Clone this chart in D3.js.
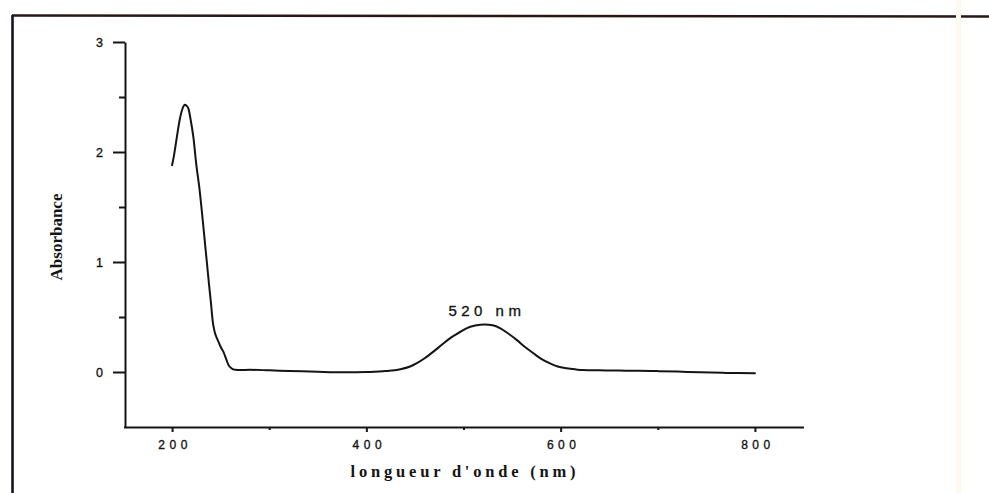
<!DOCTYPE html>
<html>
<head>
<meta charset="utf-8">
<script src="https://cdn.jsdelivr.net/npm/d3@7"></script>
<style>
  html, body { margin: 0; padding: 0; background: #fff; }
  svg { display: block; }
</style>
</head>
<body>
<svg id="chart" width="989" height="493"></svg>
<script>
// UV-visible absorption spectrum
const wavelength = [200, 202, 205, 208, 211, 213, 215, 217, 219, 222, 225, 228, 231, 234, 236, 238, 240, 242, 244, 246, 248, 250, 253, 256, 258, 261, 265, 270, 280, 300, 320, 350, 380, 400, 420, 435, 445, 452, 460, 469, 478, 486, 495, 503, 512, 522, 530, 538, 546, 555, 563, 572, 580, 589, 597, 606, 615, 623, 640, 660, 680, 700, 720, 743, 770, 800];
const absorbance = [1.88, 1.97, 2.14, 2.30, 2.40, 2.43, 2.42, 2.39, 2.30, 2.13, 1.88, 1.68, 1.43, 1.16, 0.98, 0.80, 0.63, 0.45, 0.36, 0.31, 0.27, 0.23, 0.18, 0.11, 0.065, 0.035, 0.02, 0.018, 0.02, 0.015, 0.01, 0.002, -0.003, 0.0, 0.008, 0.025, 0.05, 0.08, 0.125, 0.185, 0.25, 0.306, 0.355, 0.397, 0.422, 0.432, 0.425, 0.397, 0.35, 0.29, 0.23, 0.17, 0.12, 0.079, 0.05, 0.034, 0.024, 0.018, 0.015, 0.013, 0.011, 0.008, 0.004, -0.003, -0.008, -0.012];

const xMajorTicks = [200, 400, 600, 800];
const xMinorTicks = [300, 500, 700];
const yMajorTicks = [0, 1, 2, 3];
const yMinorTicks = [0.5, 1.5, 2.5];

const peakLabel = "520 nm";
const peakWavelength = 520;
const peakAbsorbance = 0.432;
const xTitle = "longueur d'onde (nm)";
const yTitle = "Absorbance";

const ink = "#141414";
const sans = "'Liberation Sans', Arial, sans-serif";
const serif = "'Liberation Serif', 'Times New Roman', serif";
const svg = d3.select("#chart");

// page frame (top and left rules)
svg.append("line").attr("x1", 12).attr("x2", 989).attr("y1", 15.5).attr("y2", 16.5)
  .attr("stroke", "#2a1616").attr("stroke-width", 2.6);
svg.append("line").attr("x1", 12.5).attr("x2", 12.5).attr("y1", 15).attr("y2", 493)
  .attr("stroke", "#141428").attr("stroke-width", 2.6);
// faint scan band
svg.append("rect").attr("x", 956).attr("y", 0).attr("width", 5).attr("height", 493)
  .attr("fill", "#fcfaec");

const x = d3.scaleLinear().domain([150, 850]).range([123.5, 803.5]);
const y = d3.scaleLinear().domain([-0.5, 3]).range([427, 42]);

const axisStyle = g => {
  g.selectAll("path.domain").attr("stroke", ink).attr("stroke-width", 2);
  g.selectAll(".tick line").attr("stroke", ink).attr("stroke-width", 2);
  g.selectAll(".tick text")
    .attr("fill", ink)
    .attr("stroke", ink)
    .attr("stroke-width", 0.35)
    .style("font-family", sans);
};

// y axis
const yAxisG = svg.append("g").attr("transform", `translate(${x(150) + 1.5},0)`);
yAxisG.call(d3.axisLeft(y).tickValues(yMajorTicks).tickSize(12).tickSizeOuter(0).tickPadding(10)
  .tickFormat(d3.format("d")));
axisStyle(yAxisG);
yAxisG.selectAll(".tick text").style("font-size", "12.5px");
const yMinorG = svg.append("g").attr("transform", `translate(${x(150) + 1.5},0)`);
yMinorG.call(d3.axisLeft(y).tickValues(yMinorTicks).tickSize(6).tickFormat(""));
yMinorG.select("path.domain").remove();
axisStyle(yMinorG);

// x axis
const xAxisG = svg.append("g").attr("transform", `translate(0,${y(-0.5)})`);
xAxisG.call(d3.axisBottom(x).tickValues(xMajorTicks).tickSize(5).tickSizeOuter(0).tickPadding(8)
  .tickFormat(d3.format("d")));
axisStyle(xAxisG);
xAxisG.selectAll(".tick text").style("font-size", "12px").style("letter-spacing", "4.5px")
  .attr("dx", "2.5px");
const xMinorG = svg.append("g").attr("transform", `translate(0,${y(-0.5)})`);
xMinorG.call(d3.axisBottom(x).tickValues(xMinorTicks).tickSize(3).tickFormat(""));
xMinorG.select("path.domain").remove();
axisStyle(xMinorG);

// spectrum curve
const pts = wavelength.map((w, i) => [w, absorbance[i]]);
svg.append("path")
  .datum(pts)
  .attr("fill", "none")
  .attr("stroke", ink)
  .attr("stroke-width", 2)
  .attr("stroke-linejoin", "round")
  .attr("stroke-linecap", "round")
  .attr("d", d3.line().x(d => x(d[0])).y(d => y(d[1])).curve(d3.curveMonotoneX));

// peak annotation
svg.append("text")
  .attr("x", x(peakWavelength) + 4)
  .attr("y", y(peakAbsorbance) - 8)
  .attr("text-anchor", "middle")
  .attr("fill", ink)
  .attr("stroke", ink)
  .attr("stroke-width", 0.35)
  .style("font-family", sans)
  .style("font-size", "15px")
  .style("letter-spacing", "4.5px")
  .text(peakLabel);

// axis titles
svg.append("text")
  .attr("x", 465)
  .attr("y", 477)
  .attr("text-anchor", "middle")
  .attr("fill", ink)
  .style("font-family", serif)
  .style("font-weight", "bold")
  .style("font-size", "16.5px")
  .style("letter-spacing", "3.8px")
  .text(xTitle);

svg.append("text")
  .attr("transform", "translate(62,237) rotate(-90)")
  .attr("text-anchor", "middle")
  .attr("fill", ink)
  .style("font-family", serif)
  .style("font-weight", "bold")
  .style("font-size", "17px")
  .text(yTitle);
</script>
</body>
</html>
